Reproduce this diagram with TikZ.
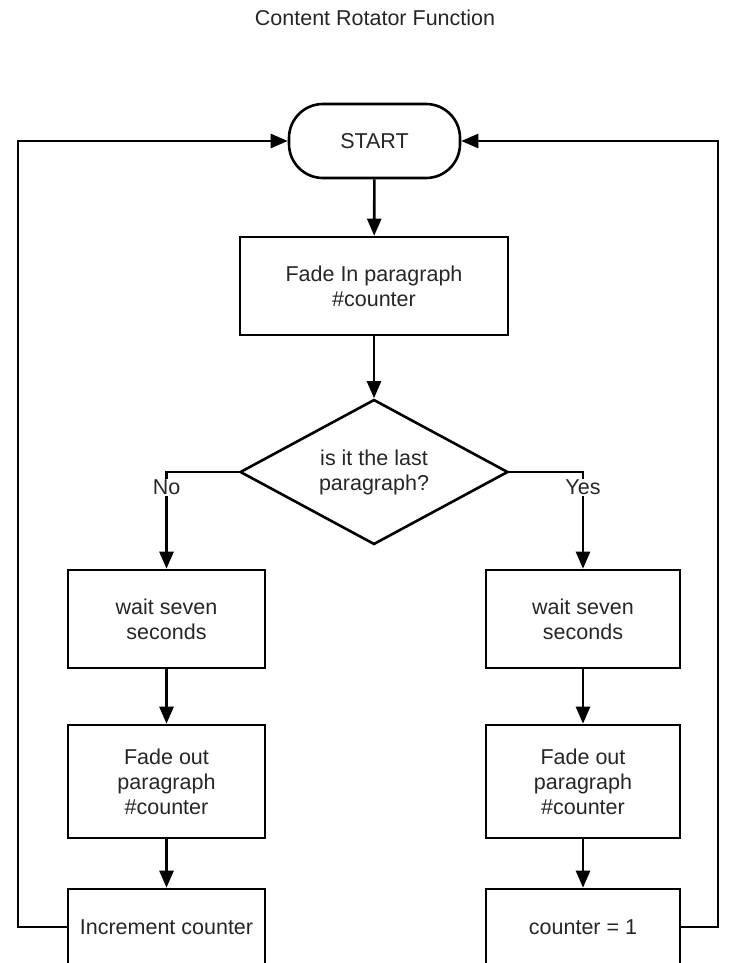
\documentclass[tikz,border=0pt]{standalone}
\usepackage{fontspec}
\setmainfont{Liberation Sans}
\usetikzlibrary{arrows.meta,shapes.geometric,shapes.misc}
\begin{document}
\begin{tikzpicture}[x=1pt,y=-1pt,
  txt/.style={font=\fontsize{21.5}{25}\selectfont, text=black!85},
  box/.style={txt, draw, line width=2.6pt, minimum width=197pt, align=center, inner sep=0pt},
  conn/.style={line width=2.6pt, -{Triangle[length=17pt,width=14pt]}},
  lbl/.style={txt, fill=white, inner sep=1pt}]
\useasboundingbox (0,0) rectangle (735,963);
\clip (0,0) rectangle (735,963);
\node[txt] (title) at (375,18) {Content Rotator Function};
\node[txt, draw, line width=2.6pt, rounded corners=34pt, minimum width=171pt, minimum height=74pt, inner sep=0pt] (start) at (374.5,141) {START};
\node[box, minimum width=268pt, minimum height=98pt] (fadein) at (374,286) {Fade In paragraph\\\#counter};
\node[txt, draw, line width=2.6pt, diamond, aspect=1.85, minimum width=268pt, minimum height=145pt, inner sep=0pt, align=center] (dec) at (374,472) {is it the last\\paragraph?};
\node[box, minimum height=98pt] (lwait) at (166.5,619) {wait seven\\seconds};
\node[box, minimum height=113pt] (lfade) at (166.5,781.5) {Fade out\\paragraph\\\#counter};
\node[box, minimum height=76pt] (linc) at (166.5,927) {Increment counter};
\node[box, minimum width=194pt, minimum height=98pt] (rwait) at (583,619) {wait seven\\seconds};
\node[box, minimum width=194pt, minimum height=113pt] (rfade) at (583,781.5) {Fade out\\paragraph\\\#counter};
\node[box, minimum width=194pt, minimum height=76pt] (rset) at (583,927) {counter = 1};
\coordinate (nocorner) at (166.5,472);
\coordinate (yescorner) at (583,472);
\coordinate (ll) at (18,927);
\coordinate (lu) at (18,141);
\coordinate (rl) at (718,927);
\coordinate (ru) at (718,141);
\draw[conn] (start) -- (fadein);
\draw[conn] (fadein) -- (dec);
\draw[conn] (dec.west) -- (nocorner) -- (lwait.north);
\draw[conn] (dec.east) -- (yescorner) -- (rwait.north);
\node[lbl] (nolbl) at (166.5,487) {No};
\node[lbl] (yeslbl) at (583,487) {Yes};
\draw[conn] (lwait) -- (lfade);
\draw[conn] (lfade) -- (linc);
\draw[conn] (rwait) -- (rfade);
\draw[conn] (rfade) -- (rset);
\draw[conn] (linc.west) -- (ll) -- (lu) -- (start.west);
\draw[conn] (rset.east) -- (rl) -- (ru) -- (start.east);
\end{tikzpicture}
\end{document}
